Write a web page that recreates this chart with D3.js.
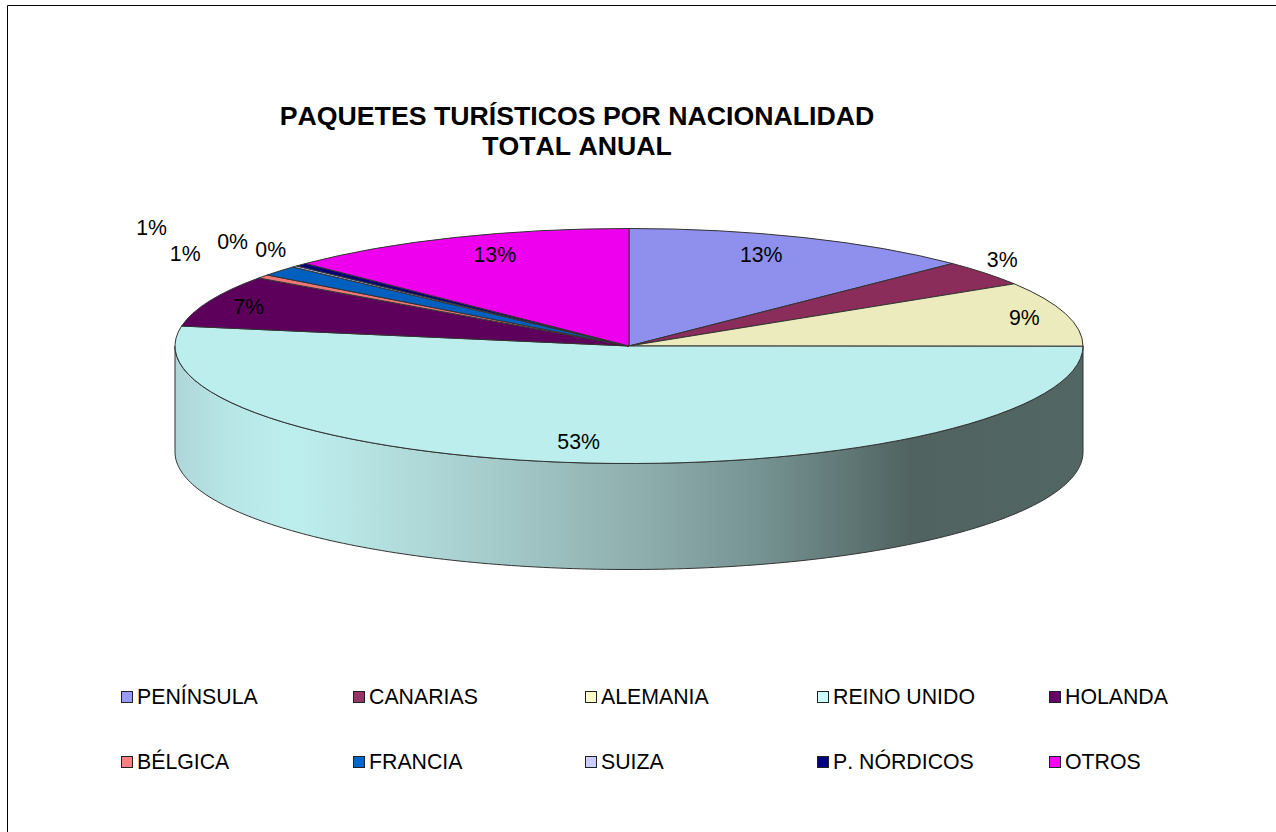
<!DOCTYPE html>
<html lang="es">
<head>
  <meta charset="UTF-8" />
  <title>Paquetes turísticos por nacionalidad</title>
  <script src="https://d3js.org/d3.v7.min.js"></script>
  <style>
    body { margin: 0; padding: 0; background: #fff; }
    svg { display: block; font-family: "Liberation Sans", Arial, sans-serif; fill: #000; font-kerning: none; }
    .title { font-size: 26.7px; font-weight: bold; text-anchor: middle; }
    .label { font-size: 21.3px; text-anchor: middle; }
    .legend-text { font-size: 21.3px; }
  </style>
</head>
<body>
  <svg width="1276" height="832"></svg>
  <script>
    const categories = ["PENÍNSULA", "CANARIAS", "ALEMANIA", "REINO UNIDO", "HOLANDA", "BÉLGICA", "FRANCIA", "SUIZA", "P. NÓRDICOS", "OTROS"];
    const shares = [12.6, 3.5, 8.9, 52.6, 7.1, 0.5, 1.4, 0.2, 0.45, 12.6];
    const percentLabels = ["13%", "3%", "9%", "53%", "7%", "1%", "1%", "0%", "0%", "13%"];
    const titleLines = ["PAQUETES TURÍSTICOS POR NACIONALIDAD", "TOTAL ANUAL"];
    const topColors = ["#8f8fee", "#8b2d5b", "#ecebbd", "#bdeeee", "#5c005c", "#ee7676", "#0060bf", "#c0c0ee", "#000078", "#ee00ee"];
    const legendColors = ["#9999ff", "#993366", "#ffffcc", "#ccffff", "#660066", "#ff8080", "#0066cc", "#ccccff", "#000080", "#ff00ff"];

    const cx = 629, cy = 346, rx = 454, ry = 117.5, depth = 106;
    // hand placed offsets, Excel moved the small labels away from their slices
    const labelNudge = [[-8, -4], [88, -28], [46, -2], [-19, 2], [-45, -3], [-151, -36], [-198, -58], [-129, -40], [-96, -31], [6, -4]];

    const svg = d3.select("svg");

    // chart frame, right and bottom edges fall outside the window
    svg.append("path")
      .attr("d", "M7.5,832V5.5H1276")
      .attr("fill", "none")
      .attr("stroke", "#000")
      .attr("stroke-width", 1);

    svg.selectAll(".title")
      .data(titleLines)
      .join("text")
      .attr("class", "title")
      .attr("x", 577)
      .attr("y", (d, i) => 125 + i * 30)
      .text(d => d);

    const wallStops = [
      [0, "#aed6d8"], [0.06, "#b8e6e6"], [0.13, "#bdeeee"], [0.2, "#b8e4e4"], [0.32, "#a9d0d0"],
      [0.515, "#8eaead"], [0.645, "#759392"], [0.81, "#506361"], [1, "#526664"]
    ];
    const gradient = svg.append("defs").append("linearGradient")
      .attr("id", "wall")
      .attr("gradientUnits", "userSpaceOnUse")
      .attr("x1", cx - rx).attr("x2", cx + rx)
      .attr("y1", 0).attr("y2", 0);
    gradient.selectAll("stop")
      .data(wallStops)
      .join("stop")
      .attr("offset", d => d[0])
      .attr("stop-color", d => d[1]);

    // front wall, half an ellipse pushed down by the depth
    const wallAngles = d3.range(90, 270.5, 1).map(d => d * Math.PI / 180);
    const wall = d3.area()
      .x(a => cx + rx * Math.sin(a))
      .y0(a => cy - ry * Math.cos(a))
      .y1(a => cy - ry * Math.cos(a) + depth);
    svg.append("path")
      .attr("d", wall(wallAngles))
      .attr("fill", "url(#wall)")
      .attr("stroke", "#333")
      .attr("stroke-width", 1);

    const pie = d3.pie().sort(null).value(d => d);
    const arcs = pie(shares);
    const arc = d3.arc().innerRadius(0).outerRadius(rx);

    // top face, a circle squashed into the ellipse
    svg.append("g")
      .attr("transform", `translate(${cx},${cy}) scale(1,${ry / rx})`)
      .selectAll("path")
      .data(arcs)
      .join("path")
      .attr("d", arc)
      .attr("fill", (d, i) => topColors[i])
      .attr("stroke", "#333")
      .attr("stroke-width", 1)
      .attr("vector-effect", "non-scaling-stroke");

    svg.selectAll(".label")
      .data(arcs)
      .join("text")
      .attr("class", "label")
      .attr("x", (d, i) => cx + 0.8 * rx * Math.sin((d.startAngle + d.endAngle) / 2) + labelNudge[i][0])
      .attr("y", (d, i) => cy - 0.8 * ry * Math.cos((d.startAngle + d.endAngle) / 2) + labelNudge[i][1] + 7)
      .text((d, i) => percentLabels[i]);

    const legendX = d3.scalePoint().domain(d3.range(5)).range([121, 1049]);
    const legendY = d3.scalePoint().domain(d3.range(2)).range([691, 756]);
    const legend = svg.selectAll(".legend")
      .data(categories)
      .join("g")
      .attr("class", "legend")
      .attr("transform", (d, i) => `translate(${legendX(i % 5)},${legendY(Math.floor(i / 5))})`);
    legend.append("rect")
      .attr("x", 0.5).attr("y", 0.5)
      .attr("width", 11).attr("height", 11)
      .attr("fill", (d, i) => legendColors[i])
      .attr("stroke", "#222")
      .attr("stroke-width", 1);
    legend.append("text")
      .attr("class", "legend-text")
      .attr("x", 16)
      .attr("y", 13)
      .text(d => d);
  </script>
</body>
</html>
